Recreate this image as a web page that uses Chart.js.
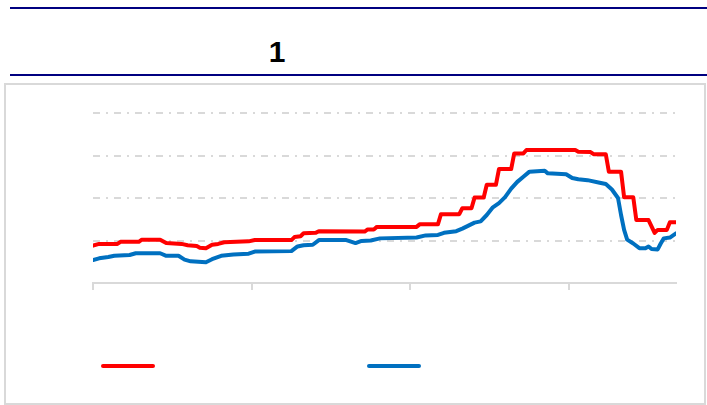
<!DOCTYPE html>
<html>
<head>
<meta charset="utf-8">
<script src="https://cdn.jsdelivr.net/npm/chart.js@4.4.1/dist/chart.umd.min.js"></script>
<style>
  html, body { margin: 0; padding: 0; background: #ffffff; }
  body { width: 707px; height: 405px; position: relative; overflow: hidden; font-family: "Liberation Sans", Arial, sans-serif; }
  .rule { position: absolute; left: 10px; width: 697px; height: 2px; background: #000080; }
  #title { position: absolute; left: 277px; top: 35px; transform: translateX(-50%); font-family: "Liberation Sans", Arial, Helvetica, sans-serif; font-size: 30px; font-weight: 700; color: #000; line-height: 34px; white-space: nowrap; }
  #box { position: absolute; left: 4px; top: 83px; width: 702px; height: 322px; border: 2px solid #d9d9d9; box-sizing: border-box; }
  #c { position: absolute; left: 0; top: 0; }
</style>
</head>
<body>
<div class="rule" style="top:7px"></div>
<div id="title">1</div>
<div class="rule" style="top:74px"></div>
<div id="box"><canvas id="c" width="698" height="318"></canvas></div>
<script>
// ---- data (week index, value) ----
const redWeeks   = [0,2,8,9,15,16,22,24,29,31,34,35,37,39,41,43,51,53,65,66,68,69,73,74,89,90,92,93,106,107,113,114,120,121,124,125,128,129,132,133,137,138,141,142,158,159,163,164,168,169,173,174,177,178,182,184,185,188,189,191];
const redValues  = [0.88,0.92,0.92,0.97,0.97,1.02,1.02,0.94,0.92,0.89,0.87,0.83,0.82,0.90,0.92,0.96,0.98,1.01,1.01,1.08,1.10,1.17,1.18,1.22,1.21,1.26,1.26,1.32,1.32,1.38,1.38,1.62,1.62,1.76,1.76,2.01,2.01,2.31,2.31,2.68,2.68,3.05,3.05,3.13,3.13,3.09,3.08,3.03,3.03,2.62,2.62,2.02,2.02,1.48,1.48,1.18,1.25,1.25,1.43,1.43];
const blueWeeks  = [0,2,5,7,12,14,22,24,28,30,32,37,39,42,46,51,53,65,67,69,72,74,83,86,88,91,94,106,109,113,115,119,121,123,125,127,129,131,133,135,137,139,141,143,148,149,155,157,159,162,166,168,170,172,173,174,175,177,179,181,182,183,185,186,187,189,191];
const blueValues = [0.54,0.58,0.61,0.64,0.66,0.70,0.70,0.64,0.64,0.55,0.51,0.49,0.56,0.64,0.67,0.69,0.74,0.75,0.86,0.89,0.90,1.01,1.01,0.94,0.99,1.00,1.05,1.07,1.12,1.13,1.18,1.22,1.28,1.35,1.42,1.45,1.60,1.78,1.88,2.02,2.22,2.38,2.50,2.62,2.64,2.58,2.56,2.47,2.44,2.42,2.36,2.33,2.20,2.00,1.60,1.25,1.02,0.93,0.82,0.82,0.86,0.80,0.79,0.93,1.05,1.07,1.17];
const xTickWeeks = [0, 52, 104, 156];
const yTicks     = [0, 1, 2, 3, 4];
const seriesNames = ['', ''];

const toPoints = (xs, ys) => xs.map((x, i) => ({ x: x, y: ys[i] }));

const legendLines = {
  id: 'legendLines',
  afterDraw(chart) {
    const ctx = chart.ctx;
    const starts = [95, 361];
    const y = 281, len = 54;
    chart.data.datasets.forEach((ds, i) => {
      ctx.save();
      ctx.strokeStyle = ds.borderColor;
      ctx.lineWidth = 4;
      ctx.lineCap = 'round';
      ctx.beginPath();
      ctx.moveTo(starts[i] + 2, y);
      ctx.lineTo(starts[i] + len - 2, y);
      ctx.stroke();
      ctx.restore();
    });
  }
};

new Chart(document.getElementById('c'), {
  type: 'line',
  data: {
    datasets: [
      { label: seriesNames[0], data: toPoints(redWeeks, redValues), borderColor: '#ff0000', backgroundColor: '#ff0000', borderWidth: 4, pointRadius: 0, tension: 0, borderJoinStyle: 'round', borderCapStyle: 'round' },
      { label: seriesNames[1], data: toPoints(blueWeeks, blueValues), borderColor: '#0070c0', backgroundColor: '#0070c0', borderWidth: 4, pointRadius: 0, tension: 0, borderJoinStyle: 'round', borderCapStyle: 'round' }
    ]
  },
  options: {
    responsive: false,
    animation: false,
    devicePixelRatio: 1,
    layout: { padding: { left: 87, right: 28, top: 28, bottom: 113 } },
    plugins: { legend: { display: false }, tooltip: { enabled: false }, title: { display: false } },
    scales: {
      x: {
        type: 'linear', min: 0, max: 191,
        afterBuildTicks: s => { s.ticks = xTickWeeks.map(v => ({ value: v })); },
        ticks: { display: false },
        grid: { drawOnChartArea: false, drawTicks: true, tickLength: 7, color: '#d9d9d9', lineWidth: 2 },
        border: { display: true, color: '#d9d9d9', width: 2 }
      },
      y: {
        min: 0, max: 4,
        afterBuildTicks: s => { s.ticks = yTicks.map(v => ({ value: v })); },
        ticks: { display: false },
        grid: { drawTicks: false, lineWidth: 2, color: c => (c.tick && c.tick.value === 0) ? 'rgba(0,0,0,0)' : '#d9d9d9' },
        border: { display: false, dash: [7, 6, 2, 6] }
      }
    }
  },
  plugins: [legendLines]
});
</script>
</body>
</html>
